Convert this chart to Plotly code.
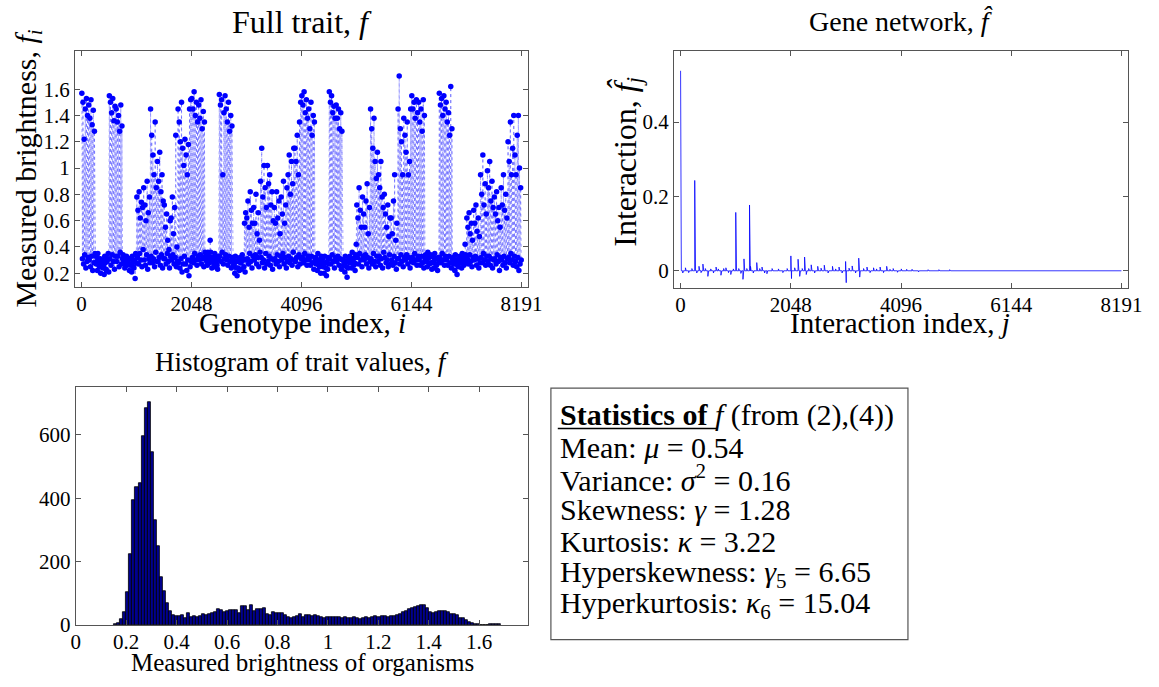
import numpy as np
import plotly.graph_objects as go

W, H = 1159, 687

# ------------------------------------------------------------------
# DATA
# ------------------------------------------------------------------
N_GENOTYPES = 8192
SEG_LEN = 128          # each row below describes 128 consecutive genotype indices

# upper part of the trait values seen in each 128-index segment
f_upper = [
    [1.57, 1.50, 1.22, 1.45, 1.53, 1.40],   # 0
    [1.48, 1.38, 1.52, 1.33, 1.44, 1.28],
    [0.33, 0.29, 0.35, 0.26, 0.31, 0.28],
    [0.30, 0.26, 0.33, 0.23, 0.29, 0.35],
    [1.55, 1.50, 1.42, 1.53, 1.36, 1.47],
    [1.45, 1.35, 1.40, 1.28, 1.48, 1.32],
    [0.34, 0.30, 0.27, 0.33, 0.29, 0.31],
    [0.31, 0.27, 0.33, 0.25, 0.29, 0.35],
    [0.78, 0.68, 0.82, 0.62, 0.74, 0.70],   # 8
    [0.85, 0.72, 0.60, 0.90, 0.66, 0.78],
    [1.45, 1.25, 1.10, 0.95, 1.35, 0.85],
    [1.05, 0.90, 1.12, 0.82, 0.95, 0.75],
    [0.72, 0.55, 0.65, 0.45, 0.38, 0.60],
    [0.62, 0.78, 0.50, 0.70, 1.25, 0.40],
    [1.45, 1.35, 1.20, 1.50, 1.15, 1.02],
    [1.22, 1.10, 0.95, 1.18, 1.45, 1.52],
    [1.53, 1.45, 1.58, 1.40, 1.50, 1.35],   # 16
    [1.48, 1.38, 1.52, 1.30, 1.43, 1.35],
    [0.33, 0.29, 0.36, 0.31, 0.45, 0.30],
    [0.32, 0.28, 0.35, 0.30, 0.26, 0.33],
    [1.56, 1.48, 1.52, 0.95, 1.42, 1.55],
    [1.45, 1.35, 1.50, 1.28, 1.40, 1.32],
    [0.30, 0.27, 0.33, 0.24, 0.29, 0.31],
    [0.32, 0.28, 0.34, 0.30, 0.58, 0.66],
    [0.62, 0.75, 0.55, 0.82, 0.68, 0.58],   # 24
    [0.70, 0.58, 0.80, 0.50, 0.66, 0.45],
    [0.90, 1.15, 0.78, 1.02, 0.85, 0.70],
    [1.02, 0.88, 0.95, 0.72, 0.82, 0.60],
    [0.70, 0.58, 0.82, 0.62, 0.75, 0.50],
    [0.78, 0.65, 0.90, 0.58, 0.72, 0.85],
    [0.95, 1.10, 0.80, 1.05, 0.88, 1.15],
    [1.15, 1.05, 1.25, 0.95, 1.35, 1.50],
    [1.55, 1.48, 1.58, 1.42, 1.52, 1.38],   # 32
    [1.45, 1.30, 1.50, 1.25, 1.40, 1.35],
    [0.32, 0.29, 0.35, 0.26, 0.30, 0.33],
    [0.31, 0.27, 0.33, 0.24, 0.29, 0.32],
    [1.58, 1.50, 1.55, 1.42, 1.47, 1.38],
    [1.48, 1.38, 1.45, 1.30, 1.42, 1.28],
    [0.30, 0.27, 0.33, 0.25, 0.29, 0.31],
    [0.33, 0.29, 0.36, 0.31, 0.28, 0.34],
    [0.72, 0.62, 0.85, 0.68, 0.55, 0.78],   # 40
    [0.65, 0.55, 0.75, 0.88, 0.50, 0.70],
    [1.45, 1.30, 1.15, 1.38, 1.05, 0.92],
    [1.12, 0.95, 0.85, 1.05, 0.78, 0.70],
    [0.80, 0.65, 0.55, 0.72, 0.48, 0.62],
    [0.62, 0.50, 0.75, 0.95, 0.45, 0.58],
    [1.45, 1.70, 1.30, 1.20, 0.95, 1.38],
    [1.25, 1.12, 1.35, 0.95, 1.05, 1.45],
    [1.55, 1.45, 1.50, 1.38, 1.52, 1.42],   # 48
    [1.50, 1.35, 1.45, 1.28, 1.52, 1.40],
    [0.34, 0.30, 0.36, 0.32, 0.28, 0.33],
    [0.33, 0.29, 0.35, 0.31, 0.27, 0.32],
    [1.57, 1.48, 1.53, 1.40, 1.55, 1.45],
    [1.50, 1.35, 1.42, 1.25, 1.62, 1.30],
    [0.32, 0.28, 0.34, 0.30, 0.26, 0.31],
    [0.33, 0.29, 0.35, 0.31, 0.28, 0.34],
    [0.62, 0.55, 0.66, 0.50, 0.58, 0.45],   # 56
    [0.68, 0.58, 0.72, 0.52, 0.62, 0.48],
    [0.95, 0.80, 1.10, 0.72, 0.88, 0.65],
    [0.98, 0.85, 1.05, 0.75, 0.90, 0.70],
    [0.78, 0.65, 0.82, 0.60, 0.70, 0.55],
    [0.85, 0.72, 0.95, 0.68, 0.80, 0.62],
    [1.20, 1.05, 1.35, 0.95, 1.15, 1.40],
    [1.10, 0.95, 1.25, 1.40, 1.00, 0.85],
]

# lower (baseline) trait values seen in each 128-index segment
f_lower = [
    [0.31, 0.27, 0.34, 0.24, 0.29, 0.32], [0.30, 0.25, 0.33, 0.22, 0.28, 0.35],
    [0.27, 0.22, 0.31, 0.25, 0.20, 0.29], [0.24, 0.19, 0.28, 0.22, 0.31, 0.21],
    [0.31, 0.26, 0.34, 0.29, 0.23, 0.33], [0.29, 0.33, 0.25, 0.36, 0.27, 0.31],
    [0.28, 0.24, 0.32, 0.26, 0.30, 0.22], [0.26, 0.21, 0.30, 0.24, 0.16, 0.28],
    [0.32, 0.27, 0.35, 0.30, 0.25, 0.38], [0.30, 0.26, 0.34, 0.23, 0.31, 0.28],
    [0.33, 0.28, 0.31, 0.25, 0.36, 0.29], [0.29, 0.32, 0.26, 0.34, 0.24, 0.31],
    [0.31, 0.27, 0.35, 0.29, 0.24, 0.33], [0.30, 0.34, 0.27, 0.32, 0.25, 0.29],
    [0.28, 0.24, 0.31, 0.21, 0.27, 0.33], [0.27, 0.22, 0.30, 0.18, 0.25, 0.29],
    [0.32, 0.28, 0.35, 0.30, 0.26, 0.33], [0.30, 0.34, 0.27, 0.31, 0.25, 0.36],
    [0.31, 0.26, 0.33, 0.28, 0.36, 0.24], [0.29, 0.25, 0.32, 0.27, 0.23, 0.30],
    [0.33, 0.29, 0.36, 0.27, 0.31, 0.34], [0.30, 0.26, 0.33, 0.29, 0.24, 0.32],
    [0.26, 0.20, 0.29, 0.18, 0.24, 0.22], [0.28, 0.23, 0.31, 0.25, 0.21, 0.30],
    [0.31, 0.27, 0.35, 0.29, 0.24, 0.33], [0.30, 0.34, 0.27, 0.32, 0.25, 0.36],
    [0.32, 0.28, 0.30, 0.24, 0.35, 0.27], [0.29, 0.33, 0.26, 0.31, 0.23, 0.30],
    [0.31, 0.27, 0.34, 0.29, 0.25, 0.33], [0.30, 0.35, 0.27, 0.32, 0.24, 0.29],
    [0.33, 0.28, 0.31, 0.26, 0.36, 0.30], [0.29, 0.32, 0.25, 0.34, 0.27, 0.31],
    [0.32, 0.28, 0.35, 0.30, 0.26, 0.33], [0.30, 0.26, 0.33, 0.28, 0.23, 0.31],
    [0.27, 0.22, 0.30, 0.25, 0.20, 0.28], [0.25, 0.20, 0.28, 0.18, 0.23, 0.27],
    [0.31, 0.27, 0.34, 0.29, 0.24, 0.32], [0.29, 0.33, 0.26, 0.31, 0.23, 0.30],
    [0.26, 0.21, 0.29, 0.17, 0.24, 0.28], [0.28, 0.24, 0.31, 0.26, 0.22, 0.42],
    [0.32, 0.27, 0.35, 0.30, 0.25, 0.33], [0.30, 0.34, 0.27, 0.32, 0.24, 0.29],
    [0.31, 0.27, 0.35, 0.29, 0.25, 0.33], [0.29, 0.33, 0.26, 0.31, 0.24, 0.36],
    [0.32, 0.28, 0.30, 0.25, 0.34, 0.27], [0.30, 0.26, 0.33, 0.28, 0.23, 0.31],
    [0.31, 0.27, 0.34, 0.29, 0.25, 0.32], [0.30, 0.34, 0.27, 0.32, 0.24, 0.29],
    [0.32, 0.28, 0.35, 0.30, 0.26, 0.33], [0.30, 0.26, 0.33, 0.28, 0.24, 0.31],
    [0.29, 0.25, 0.32, 0.27, 0.34, 0.23], [0.28, 0.24, 0.31, 0.26, 0.22, 0.30],
    [0.32, 0.28, 0.35, 0.30, 0.26, 0.33], [0.30, 0.26, 0.33, 0.28, 0.24, 0.31],
    [0.27, 0.22, 0.30, 0.19, 0.25, 0.28], [0.28, 0.24, 0.31, 0.26, 0.42, 0.29],
    [0.31, 0.27, 0.34, 0.29, 0.25, 0.32], [0.30, 0.33, 0.26, 0.31, 0.24, 0.28],
    [0.32, 0.28, 0.35, 0.30, 0.26, 0.33], [0.29, 0.33, 0.26, 0.31, 0.24, 0.30],
    [0.31, 0.27, 0.34, 0.29, 0.22, 0.32], [0.30, 0.26, 0.33, 0.28, 0.24, 0.31],
    [0.32, 0.28, 0.35, 0.30, 0.26, 0.33], [0.29, 0.25, 0.32, 0.22, 0.27, 0.30],
]

# gene network (Walsh coefficients): non-negligible entries
fhat_index = [0, 8, 40, 90, 150, 210, 263, 275, 300, 342, 380, 415, 460, 507,
              560, 610, 659, 700, 750, 800, 842, 890, 933, 980, 1025, 1037,
              1080, 1120, 1159, 1178, 1230, 1281, 1299, 1350, 1415, 1470, 1513,
              1560, 1604, 1700, 1818, 1900, 1980, 2049, 2061, 2120, 2183, 2213,
              2260, 2304, 2335, 2380, 2427, 2490, 2548, 2610, 2670, 2740, 2822,
              2880, 2944, 3000, 3066, 3078, 3130, 3188, 3250, 3310, 3328, 3400,
              3463, 3520, 3585, 3640, 3707, 3770, 3829, 3890, 3950, 4030, 4100,
              4200, 4300, 4420, 4600, 4800, 5000, 5250, 5500, 5750, 6000, 6300,
              6600, 6900, 7200, 7500, 7800, 8050]
fhat_value = [0.538, 0.105, -0.006, 0.008, -0.005, 0.006, 0.243, 0.038, -0.006,
              0.012, -0.005, 0.018, 0.006, -0.015, 0.005, -0.006, 0.010, 0.005,
              -0.012, 0.006, 0.008, -0.005, -0.010, 0.005, 0.157, 0.077, 0.006,
              -0.007, -0.023, 0.032, 0.006, 0.177, 0.012, -0.006, 0.022, 0.006,
              0.010, -0.006, -0.008, 0.006, 0.005, -0.005, 0.006, 0.040, -0.021,
              0.008, 0.031, -0.015, 0.006, 0.037, -0.010, 0.006, 0.016, -0.006,
              0.012, 0.007, 0.015, -0.006, 0.012, 0.005, 0.010, -0.006, 0.025,
              -0.032, 0.007, 0.013, -0.006, 0.034, -0.017, 0.006, 0.010, -0.005,
              0.008, 0.005, 0.010, -0.005, 0.012, 0.004, 0.006, -0.004, 0.005,
              0.004, 0.004, -0.003, 0.003, 0.003, 0.003, 0.002, 0.002, 0.002,
              0.002, 0.002, 0.002, 0.002, 0.002, 0.002, 0.002, 0.002]

# histogram of trait values
hist_first_edge = 0.152
hist_bin_width = 0.012
hist_counts = [3, 5, 19, 41, 102, 223, 395, 435, 447, 597, 684, 703, 545, 332,
               250, 151, 107, 68, 45, 30, 29, 27, 31, 22, 38, 25, 27, 23, 29,
               34, 31, 33, 37, 41, 50, 46, 39, 44, 47, 46, 48, 36, 58, 58, 48,
               63, 45, 49, 51, 52, 34, 31, 40, 38, 38, 37, 32, 25, 22, 26, 28,
               34, 24, 30, 32, 28, 30, 27, 26, 22, 24, 26, 23, 25, 24, 22, 24,
               20, 21, 23, 20, 17, 21, 24, 20, 25, 27, 24, 27, 28, 26, 28, 27,
               32, 35, 40, 44, 50, 52, 55, 60, 64, 62, 52, 40, 37, 40, 45, 44,
               42, 40, 35, 34, 30, 22, 20, 14, 10, 6, 3, 1, 0, 0, 0, 1, 1, 1, 1]

# statistics box
stat_names = ["Mean", "Variance", "Skewness", "Kurtosis", "Hyperskewness", "Hyperkurtosis"]
stat_symbols = ["<i>μ</i>", "<i>σ</i><sup>2</sup>", "<i>γ</i>", "<i>κ</i>",
                "<i>γ</i><sub>5</sub>", "<i>κ</i><sub>6</sub>"]
stat_values = ["0.54", "0.16", "1.28", "3.22", "6.65", "15.04"]

genotype_ticks = [0, 2048, 4096, 6144, 8191]

# ------------------------------------------------------------------
# derived series
# ------------------------------------------------------------------
fx, fy = [], []
for s, (ups, lows) in enumerate(zip(f_upper, f_lower)):
    vals = []
    for u, l in zip(ups, lows):
        vals += [u, l]
    n = len(vals)
    for m, v in enumerate(vals):
        fx.append(s * SEG_LEN + (m + 0.5) * SEG_LEN / n)
        fy.append(v)

fhat = np.zeros(N_GENOTYPES)
fhat[np.array(fhat_index)] = fhat_value
j_idx = np.arange(N_GENOTYPES)

hist_centers = [hist_first_edge + (k + 0.5) * hist_bin_width for k in range(len(hist_counts))]

# ------------------------------------------------------------------
# figure
# ------------------------------------------------------------------
FONT = "Liberation Serif"
BLUE = "#0000ff"
AX = "#555555"


def px(x):
    return x / W


def py(y):
    return 1 - y / H


fig = go.Figure()

fig.add_trace(go.Scatter(
    x=fx, y=fy, mode="lines+markers", xaxis="x", yaxis="y",
    line=dict(color="rgba(40,40,255,0.75)", width=0.6, dash="dot"),
    marker=dict(color=BLUE, size=5.5, symbol="circle"),
    showlegend=False, hoverinfo="skip"))

fig.add_trace(go.Scatter(
    x=j_idx, y=fhat, mode="lines", xaxis="x2", yaxis="y2",
    line=dict(color=BLUE, width=0.8),
    showlegend=False, hoverinfo="skip"))

fig.add_trace(go.Bar(
    x=hist_centers, y=hist_counts, width=hist_bin_width, xaxis="x3", yaxis="y3",
    marker=dict(color="#00008f", line=dict(color="black", width=0.8)),
    showlegend=False, hoverinfo="skip"))

axis_common = dict(showline=True, linecolor=AX, linewidth=1, mirror="ticks",
                   ticks="inside", ticklen=5, tickcolor=AX, showgrid=False,
                   zeroline=False, tickfont=dict(family=FONT, size=21, color="black"))
xaxis_common = dict(axis_common, ticklabelstandoff=-2)

fig.update_layout(
    width=W, height=H, margin=dict(l=0, r=0, t=0, b=0),
    paper_bgcolor="white", plot_bgcolor="white",
    bargap=0,
    xaxis=dict(domain=[px(71), px(532)], range=[-125, 8318],
               tickvals=genotype_ticks, anchor="y", **xaxis_common),
    yaxis=dict(domain=[py(292), py(52)], range=[0.096, 1.89],
               tickvals=[0.2, 0.4, 0.6, 0.8, 1.0, 1.2, 1.4, 1.6],
               ticktext=["0.2", "0.4", "0.6", "0.8", "1", "1.2", "1.4", "1.6"],
               anchor="x", **axis_common),
    xaxis2=dict(domain=[px(680), px(1142)], range=[-125, 8318],
                tickvals=genotype_ticks, anchor="y2", **xaxis_common),
    yaxis2=dict(domain=[py(293), py(52)], range=[-0.046, 0.591],
                tickvals=[0, 0.2, 0.4], ticktext=["0", "0.2", "0.4"],
                anchor="x2", **axis_common),
    xaxis3=dict(domain=[px(72), px(532)], range=[0, 1.795],
                tickvals=[0, 0.2, 0.4, 0.6, 0.8, 1.0, 1.2, 1.4, 1.6],
                ticktext=["0", "0.2", "0.4", "0.6", "0.8", "1", "1.2", "1.4", "1.6"],
                anchor="y3", **xaxis_common),
    yaxis3=dict(domain=[py(636), py(394)], range=[0, 751],
                tickvals=[0, 200, 400, 600], anchor="x3", **axis_common),
)

annots = []


def label(text, x, y, size=28, angle=0, xanchor="center"):
    annots.append(dict(text=text, x=px(x), y=py(y), xref="paper", yref="paper",
                       showarrow=False, xanchor=xanchor, yanchor="middle",
                       textangle=angle, font=dict(family=FONT, size=size, color="black")))


label("Full trait, <i>f</i>", 302, 22, size=32)
label("Gene network, <i>f\u0302</i>", 911, 22, size=28)
label("Histogram of trait values, <i>f</i>", 302, 368, size=27)
label("Genotype index, <i>i</i>", 302, 329, size=29)
label("Interaction index, <i>j</i>", 910, 329, size=29)
label("Measured brightness of organisms", 302, 674, size=25)
label("Measured brightness, <i>f<sub>i</sub></i>", 23, 172, size=30, angle=-90)
label("Interaction, <i>f\u0302<sub>j</sub></i>", 632, 165, size=32, angle=-90)

# statistics box
stat_y = [455, 487, 519, 551, 584, 616]
label("<b>Statistics of</b> <i>f</i> (from (2),(4))", 562, 422, size=30, xanchor="left")
for name, sym, val, yy in zip(stat_names, stat_symbols, stat_values, stat_y):
    label(f"{name}: {sym} = {val}", 562, yy, size=30, xanchor="left")

fig.update_layout(annotations=annots)

fig.add_shape(type="rect", xref="paper", yref="paper",
              x0=px(555), x1=px(918), y0=py(651), y1=py(395),
              line=dict(color=AX, width=1.2), fillcolor="rgba(0,0,0,0)", layer="below")
fig.add_shape(type="line", xref="paper", yref="paper",
              x0=px(562), x1=px(724), y0=py(436), y1=py(436),
              line=dict(color="black", width=1.5))

fig.write_html("out.html")
